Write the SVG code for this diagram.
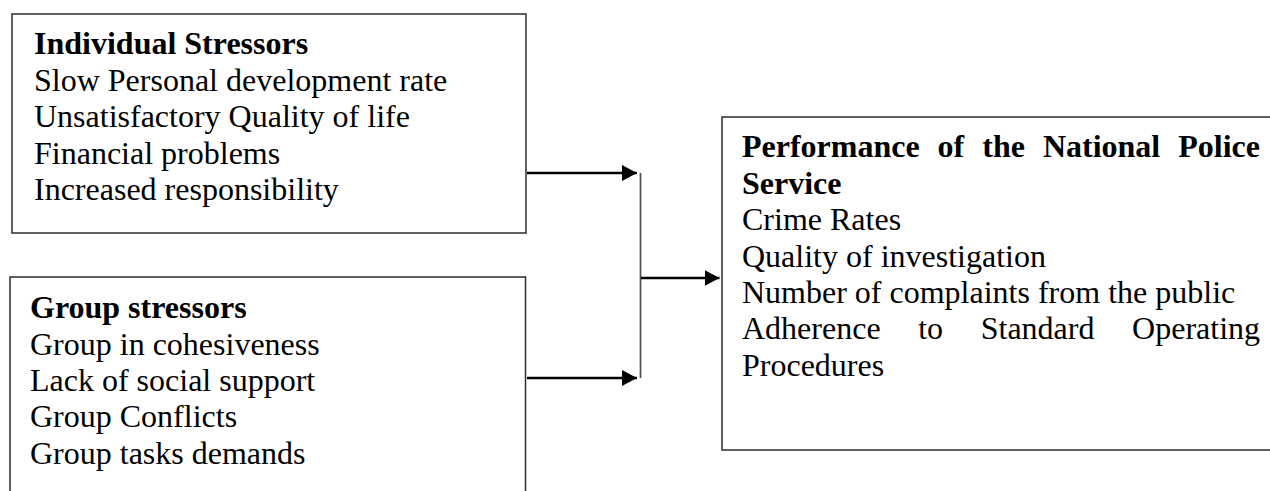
<svg xmlns="http://www.w3.org/2000/svg" width="1270" height="491" viewBox="0 0 1270 491">
<style>
  .box { fill: #ffffff; stroke: #2b2b2b; stroke-width: 1.5; }
  .t { font-family: "Liberation Serif", "Times New Roman", serif; font-size: 32px; fill: #000000; }
  .b { font-weight: bold; }
  .arrow { stroke: #000000; stroke-width: 2.6; fill: none; }
  .join { stroke: #4d4d4d; stroke-width: 1.7; fill: none; }
</style>
<defs>
  <marker id="ah" markerUnits="userSpaceOnUse" markerWidth="17" markerHeight="17" refX="15" refY="8" orient="auto">
    <polygon points="0,0 15,8 0,16" fill="#000000"/>
  </marker>
</defs>
<rect width="1270" height="491" fill="#ffffff"/>

<g id="individual-stressors">
  <rect class="box" x="12" y="14" width="514" height="219"/>
  <text class="t b" x="34" y="54">Individual Stressors</text>
  <text class="t" x="34" y="90.5">Slow Personal development rate</text>
  <text class="t" x="34" y="127">Unsatisfactory Quality of life</text>
  <text class="t" x="34" y="163.5">Financial problems</text>
  <text class="t" x="34" y="200">Increased responsibility</text>
</g>

<g id="group-stressors">
  <rect class="box" x="10" y="277" width="515.5" height="240"/>
  <text class="t b" x="30" y="318">Group stressors</text>
  <text class="t" x="30" y="354.5">Group in cohesiveness</text>
  <text class="t" x="30" y="391">Lack of social support</text>
  <text class="t" x="30" y="427">Group Conflicts</text>
  <text class="t" x="30" y="463.5">Group tasks demands</text>
</g>

<g id="performance">
  <rect class="box" x="722" y="117" width="600" height="333"/>
  <text class="t b" y="157"><tspan x="742">Performance</tspan><tspan x="937.6">of</tspan><tspan x="982.3">the</tspan><tspan x="1042.9">National</tspan><tspan x="1178.2">Police</tspan></text>
  <text class="t b" x="742" y="193.5">Service</text>
  <text class="t" x="742" y="230">Crime Rates</text>
  <text class="t" x="742" y="266.5">Quality of investigation</text>
  <text class="t" x="742" y="302.5">Number of complaints from the public</text>
  <text class="t" y="339"><tspan x="742">Adherence</tspan><tspan x="918.2">to</tspan><tspan x="980.7">Standard</tspan><tspan x="1132.1">Operating</tspan></text>
  <text class="t" x="742" y="375.5">Procedures</text>
</g>

<g id="connectors">
  <line class="arrow" x1="527" y1="173" x2="637" y2="173" marker-end="url(#ah)"/>
  <line class="arrow" x1="527" y1="378" x2="637" y2="378" marker-end="url(#ah)"/>
  <line class="join" x1="640.5" y1="173" x2="640.5" y2="378"/>
  <line class="arrow" x1="641" y1="278" x2="719.5" y2="278" marker-end="url(#ah)"/>
</g>
</svg>
